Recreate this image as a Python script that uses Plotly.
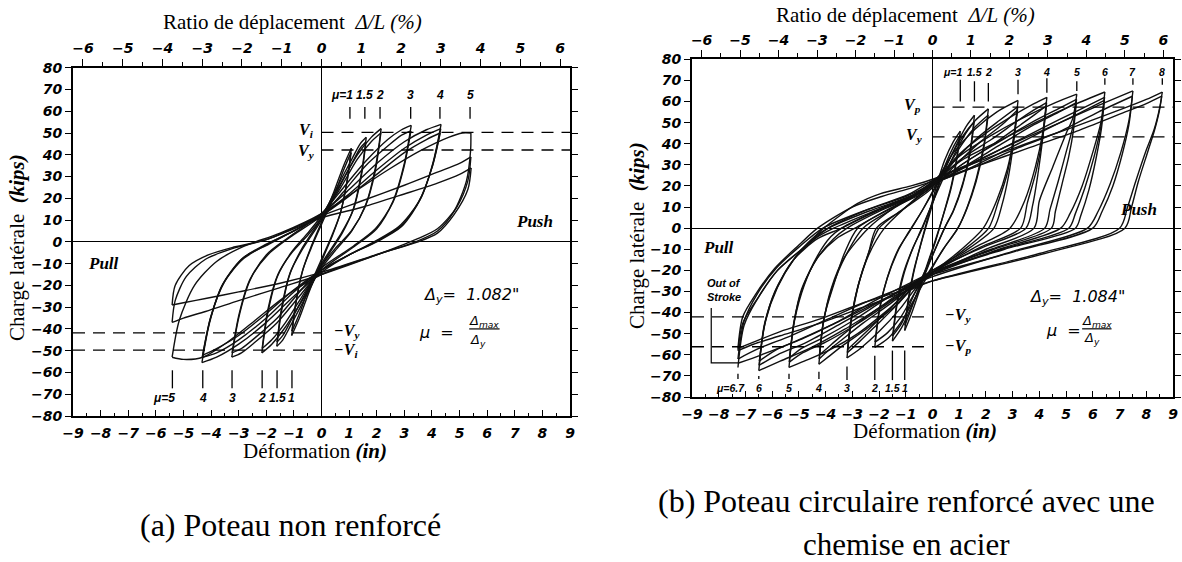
import plotly.graph_objects as go

# ------------------------------------------------------------------
# DATA
# ------------------------------------------------------------------
X_TICKS = list(range(-9, 10))          # inches
PCT_TICKS = list(range(-6, 7))         # drift ratio %
Y_TICKS = list(range(-80, 81, 10))     # kips
IN_PER_PCT = 1.44                      # 1 % drift = 1.44 in

# (a) unretrofitted column: loading branches (negative peak -> positive peak)
A_UP_X = [
    [-1.08, -0.95, -0.7, -0.4, 0, 0.45, 0.8, 1.08],
    [-1.07, -0.93, -0.68, -0.38, 0, 0.45, 0.8, 1.07],
    [-1.62, -1.45, -1.15, -0.75, 0, 0.6, 1.1, 1.4, 1.62],
    [-1.61, -1.44, -1.13, -0.72, 0, 0.6, 1.1, 1.4, 1.61],
    [-2.16, -1.95, -1.6, -1.1, -0.5, 0, 0.7, 1.3, 1.8, 2.16],
    [-2.15, -1.94, -1.58, -1.08, -0.5, 0, 0.7, 1.3, 1.8, 2.15],
    [-3.25, -3.0, -2.6, -2.0, -1.2, 0, 0.8, 1.6, 2.4, 2.9, 3.25],
    [-3.24, -2.98, -2.58, -1.95, -1.15, 0, 0.8, 1.6, 2.4, 2.9, 3.24],
    [-4.33, -4.05, -3.6, -2.9, -2.0, -1.0, 0, 1.0, 2.0, 3.0, 3.8, 4.33],
    [-4.32, -4.02, -3.55, -2.85, -1.95, -1.0, 0, 1.0, 2.0, 3.0, 3.8, 4.32],
    [-4.3, -4.0, -3.5, -2.8, -1.9, -1.0, 0, 1.0, 2.0, 3.0, 3.8, 4.3],
    [-5.41, -5.15, -4.6, -3.8, -2.8, -1.5, 0, 1.2, 2.4, 3.6, 4.6, 5.1, 5.41],
    [-5.41, -5.3, -4.9, -4.2, -3.2, -2.0, 0, 1.5, 3.0, 4.2, 5.0, 5.41],
    [-5.41, -5.3, -4.8, -4.1, -3.2, -2.0, 0, 1.5, 3.0, 4.2, 5.0, 5.42],
]
A_UP_Y = [
    [-43, -30, -14, -3, 9, 23, 35, 43],
    [-41, -28, -13, -3, 8, 21, 33, 41],
    [-48, -32, -15, -4, 11, 26, 38, 45, 48],
    [-46, -30, -14, -4, 10, 24, 36, 43, 46],
    [-51, -33, -16, -5, 4, 12, 27, 40, 48, 52],
    [-49, -31, -15, -5, 3, 11, 25, 38, 46, 50],
    [-53, -35, -18, -6, 2, 13, 25, 37, 47, 51.5, 53.5],
    [-51, -33, -17, -6, 2, 12, 23, 35, 44, 49, 51],
    [-55.5, -37, -20, -8, -1, 5, 13, 24, 36, 46, 51.5, 54],
    [-53, -35, -19, -8, -1, 5, 12, 22, 33, 43, 49, 52],
    [-52, -34, -18, -7, -1, 5, 12, 21, 31, 41, 47, 50],
    [-53, -36, -20, -9, -2, 4, 13, 23, 33, 42, 48, 50, 50],
    [-37, -27, -16, -8, -3, 1, 12, 19, 26, 32, 36, 39],
    [-29, -20, -11, -6, -2.5, 1, 11, 16, 22, 27, 31, 34],
]
# (a) unloading / reverse branches (positive peak -> negative peak)
A_DN_X = [
    [1.08, 0.95, 0.7, 0.4, 0, -0.45, -0.8, -1.08],
    [1.07, 0.93, 0.68, 0.38, 0, -0.45, -0.8, -1.07],
    [1.62, 1.45, 1.15, 0.75, 0, -0.6, -1.1, -1.4, -1.62],
    [1.61, 1.44, 1.13, 0.72, 0, -0.6, -1.1, -1.4, -1.61],
    [2.16, 1.95, 1.6, 1.1, 0.5, 0, -0.7, -1.3, -1.8, -2.16],
    [2.15, 1.94, 1.58, 1.08, 0.5, 0, -0.7, -1.3, -1.8, -2.15],
    [3.25, 3.0, 2.6, 2.0, 1.2, 0, -0.8, -1.6, -2.4, -2.9, -3.25],
    [3.24, 2.98, 2.58, 1.95, 1.15, 0, -0.8, -1.6, -2.4, -2.9, -3.24],
    [4.33, 4.05, 3.6, 2.9, 2.0, 1.0, 0, -1.0, -2.0, -3.0, -3.8, -4.33],
    [4.32, 4.02, 3.55, 2.85, 1.95, 1.0, 0, -1.0, -2.0, -3.0, -3.8, -4.32],
    [4.3, 4.0, 3.5, 2.8, 1.9, 1.0, 0, -1.0, -2.0, -3.0, -3.8, -4.3],
    [5.41, 5.4, 5.25, 4.8, 4.2, 3.4, 2.0, 0, -1.2, -2.4, -3.4, -4.3, -5.0, -5.41],
    [5.41, 5.3, 4.9, 4.2, 3.4, 2.0, 0, -1.5, -3.0, -4.2, -5.0, -5.41],
    [5.42, 5.3, 4.8, 4.2, 3.5, 2.2, 0, -1.5, -3.0, -4.2, -5.0, -5.41],
]
A_DN_Y = [
    [43, 30, 14, 3, -9, -23, -35, -43],
    [41, 28, 13, 3, -8, -21, -33, -41],
    [48, 32, 15, 4, -11, -26, -38, -45, -48],
    [46, 30, 14, 4, -10, -24, -36, -43, -46],
    [52, 34, 17, 5, -4, -12, -27, -39, -47, -51],
    [50, 32, 16, 5, -3, -11, -25, -37, -45, -49],
    [53.5, 36, 19, 6, -2, -13, -25, -37, -46, -51, -53],
    [51, 34, 18, 6, -2, -12, -23, -35, -44, -49, -51],
    [54, 37, 20, 7, 0, -6, -14, -25, -37, -47, -53, -55.5],
    [52, 35, 19, 7, 0, -6, -13, -23, -35, -45, -51, -53],
    [50, 34, 18, 7, 0, -6, -13, -22, -33, -43, -49, -52],
    [50, 42, 28, 14, 5, 0, -6, -15, -24, -36, -46, -53, -54, -53],
    [39, 28, 16, 6, 1, -6, -15, -21, -27, -32, -35, -37],
    [34, 24, 12.5, 4, 0, -5, -14, -19, -23, -26, -28, -29],
]

# (b) steel-jacketed circular column
B_UP_X = [
    [-1.04, -0.92, -0.72, -0.45, -0.15, 0.15, 0.45, 0.78, 1.04],
    [-1.03, -0.9, -0.7, -0.42, -0.12, 0.18, 0.48, 0.8, 1.03],
    [-1.5, -1.35, -1.1, -0.75, -0.4, 0, 0.35, 0.8, 1.25, 1.57],
    [-1.49, -1.33, -1.08, -0.72, -0.38, 0, 0.38, 0.82, 1.25, 1.56],
    [-2.16, -2.0, -1.7, -1.3, -0.9, -0.4, 0.15, 0.6, 1.1, 1.6, 2.09],
    [-2.15, -1.98, -1.68, -1.28, -0.88, -0.4, 0.15, 0.62, 1.12, 1.6, 2.08],
    [-3.2, -3.05, -2.8, -2.4, -1.8, -1.0, -0.2, 0.2, 0.8, 1.6, 2.4, 3.2],
    [-3.19, -3.03, -2.78, -2.4, -2.0, -1.1, -0.2, 0.25, 0.9, 1.7, 2.5, 3.19],
    [-3.18, -3.0, -2.75, -2.4, -2.1, -1.2, -0.2, 0.25, 0.95, 1.8, 2.6, 3.18],
    [-4.25, -4.1, -3.8, -3.3, -2.4, -1.4, -0.3, 0.2, 1.0, 2.0, 3.1, 3.8, 4.28],
    [-4.24, -4.08, -3.75, -3.25, -2.6, -1.5, -0.3, 0.2, 1.1, 2.2, 3.2, 3.8, 4.27],
    [-4.23, -4.05, -3.7, -3.3, -2.8, -1.6, -0.3, 0.2, 1.2, 2.3, 3.3, 3.85, 4.26],
    [-5.37, -5.2, -4.9, -4.3, -3.6, -2.9, -1.8, -0.6, 0.2, 1.0, 2.2, 3.5, 4.6, 5.4],
    [-5.36, -5.18, -4.85, -4.3, -3.7, -3.2, -2.0, -0.7, 0.2, 1.2, 2.5, 3.7, 4.7, 5.39],
    [-5.35, -5.15, -4.8, -4.3, -3.8, -3.4, -2.1, -0.75, 0.2, 1.3, 2.6, 3.8, 4.8, 5.38],
    [-6.5, -6.3, -5.9, -5.2, -4.3, -3.4, -2.0, -0.7, 0.2, 1.2, 2.6, 4.0, 5.3, 6.45],
    [-6.49, -6.28, -5.85, -5.2, -4.4, -3.7, -2.2, -0.8, 0.2, 1.4, 2.8, 4.2, 5.4, 6.44],
    [-6.48, -6.25, -5.8, -5.2, -4.5, -3.9, -2.4, -0.85, 0.2, 1.5, 2.9, 4.3, 5.5, 6.43],
    [-7.28, -7.05, -6.53, -5.8, -4.8, -3.9, -2.4, -0.9, 0.2, 1.5, 3.0, 4.6, 6.1, 7.5],
    [-7.28, -7.05, -6.55, -5.85, -5.0, -4.1, -2.6, -1.0, 0.2, 1.6, 3.2, 4.8, 6.2, 7.48],
    [-7.28, -7.1, -6.53, -5.8, -4.8, -4.07, -2.8, -1.94, -0.8, 0.2, 1.8, 3.5, 5.3, 7.0, 8.0, 8.6],
    [-7.28, -7.1, -6.6, -5.9, -5.0, -4.3, -3.0, -1.9, -0.8, 0.2, 1.8, 3.6, 5.4, 7.0, 8.0, 8.58],
]
B_UP_Y = [
    [-48.5, -36, -22, -8, 6, 20, 32, 41, 46],
    [-46, -33, -20, -7, 6, 19, 30, 39, 44],
    [-53.5, -38, -23, -10, 0, 12, 24, 37, 48, 53.5],
    [-51, -35, -21, -9, 0, 12, 23, 35, 45, 50.5],
    [-56.5, -40, -24, -11, -2, 8, 21, 32, 43, 51, 56.5],
    [-54, -38, -23, -10, -2, 8, 20, 30, 40, 48, 53.5],
    [-61.5, -44, -28, -13, 0, 10, 19, 24, 36, 47, 55, 60.5],
    [-59, -42, -27, -12, 0, 9, 18, 23, 33, 43, 51, 57.5],
    [-57.5, -41, -26, -12, 0, 8, 17, 22, 31, 41, 49, 56],
    [-64.5, -46, -29, -14, 0, 10, 19, 24, 35, 45, 54, 59, 62],
    [-62, -44, -28, -13, 0, 9, 18, 23, 33, 42, 51, 56, 59.5],
    [-60, -42, -27, -12, 0, 9, 17, 22, 31, 40, 49, 54, 58],
    [-66, -46, -29, -14, -5, 0, 8, 16, 24, 34, 44, 53, 59.5, 63.5],
    [-63.5, -44, -28, -14, -5, 0, 8, 15, 22, 31, 41, 50, 56.5, 61],
    [-61.5, -43, -27, -13, -4, 0, 8, 15, 22, 30, 40, 49, 55.5, 59.5],
    [-67.5, -47, -30, -15, -5, 0, 9, 16, 24, 33, 42, 51, 58.5, 64.5],
    [-65, -45, -29, -15, -5, 0, 8, 15, 22, 30, 39, 48, 55.5, 62],
    [-63, -44, -28, -15, -5, 0, 8, 15, 22, 29, 38, 47, 54.5, 60.5],
    [-66, -46, -33, -20, -9, 0, 9, 16, 24, 31, 40, 49, 57.5, 65],
    [-62, -44, -31, -19, -9, 0, 8, 15, 22, 29, 38, 46, 55, 62.5],
    [-58, -45, -33, -20, -9, 0, 11.7, 16.4, 20, 24, 32, 40, 48, 56, 61, 64.5],
    [-57, -42, -31, -19, -8, 0, 10, 15, 19, 23, 30, 38, 46, 54, 59, 62.5],
]
B_DN_X = [
    [1.04, 0.92, 0.7, 0.42, 0.12, -0.2, -0.5, -0.8, -1.04],
    [1.03, 0.9, 0.68, 0.4, 0.1, -0.22, -0.52, -0.82, -1.03],
    [1.57, 1.42, 1.15, 0.8, 0.45, 0, -0.35, -0.75, -1.15, -1.5],
    [1.56, 1.4, 1.12, 0.78, 0.45, 0, -0.38, -0.78, -1.15, -1.49],
    [2.09, 1.93, 1.65, 1.3, 0.95, 0.4, -0.2, -0.65, -1.15, -1.65, -2.16],
    [2.08, 1.92, 1.63, 1.28, 0.95, 0.4, -0.2, -0.68, -1.18, -1.68, -2.15],
    [3.2, 3.05, 2.8, 2.4, 1.9, 1.0, 0, -0.6, -1.2, -2.0, -2.7, -3.2],
    [3.19, 3.03, 2.8, 2.45, 2.1, 1.1, 0, -0.65, -1.3, -2.1, -2.75, -3.19],
    [3.18, 3.03, 2.85, 2.6, 2.3, 1.2, 0, -0.65, -1.35, -2.15, -2.8, -3.18],
    [4.28, 4.12, 3.85, 3.45, 2.9, 1.6, 0, -0.7, -1.5, -2.5, -3.4, -3.9, -4.25],
    [4.27, 4.12, 3.88, 3.55, 3.3, 1.8, 0, -0.7, -1.6, -2.6, -3.4, -3.9, -4.24],
    [4.26, 4.12, 3.95, 3.75, 3.5, 1.9, 0, -0.7, -1.7, -2.7, -3.5, -3.95, -4.23],
    [5.4, 5.25, 5.04, 4.5, 4.0, 3.8, 2.0, 0, -0.7, -1.6, -2.8, -3.9, -4.8, -5.37],
    [5.39, 5.25, 5.0, 4.7, 4.4, 4.2, 2.2, 0, -0.7, -1.7, -2.9, -4.0, -4.85, -5.36],
    [5.38, 5.27, 5.1, 4.85, 4.6, 4.45, 2.3, 0, -0.75, -1.8, -3.0, -4.1, -4.9, -5.35],
    [6.45, 6.3, 6.0, 5.6, 5.15, 4.8, 2.5, 0, -0.8, -1.9, -3.3, -4.6, -5.7, -6.5],
    [6.44, 6.3, 6.05, 5.7, 5.35, 5.1, 2.6, 0, -0.8, -2.0, -3.4, -4.7, -5.8, -6.49],
    [6.43, 6.32, 6.12, 5.85, 5.55, 5.35, 2.7, 0, -0.85, -2.1, -3.5, -4.8, -5.9, -6.48],
    [7.5, 7.35, 7.05, 6.65, 6.2, 5.8, 3.0, 0, -0.9, -2.2, -3.8, -5.2, -6.4, -7.28],
    [7.48, 7.35, 7.1, 6.75, 6.35, 6.0, 3.1, 0, -0.9, -2.3, -3.9, -5.3, -6.5, -7.28],
    [8.6, 8.5, 8.3, 8.0, 7.6, 7.3, 7.0, 4.0, 0, -1.0, -2.5, -4.2, -5.7, -6.7, -7.28],
    [8.58, 8.48, 8.3, 8.05, 7.7, 7.45, 7.2, 4.2, 0, -1.0, -2.5, -4.2, -5.7, -6.7, -7.28],
]
B_DN_Y = [
    [46, 34, 20, 7, -6, -18, -30, -41, -48.5],
    [44, 32, 18, 6, -6, -18, -29, -39, -46],
    [53.5, 38, 22, 9, 0, -13, -24, -36, -47, -53.5],
    [50.5, 35, 20, 8, 0, -13, -23, -34, -45, -51],
    [56.5, 40, 24, 10, 0, -10, -23, -33, -44, -52, -56.5],
    [53.5, 38, 22, 9, 0, -10, -22, -31, -42, -49.5, -54],
    [60.5, 44, 28, 13, 0, -11, -21, -28, -38, -49, -57, -61.5],
    [57.5, 42, 26, 12, 0, -11, -21, -27, -36, -46, -54, -59],
    [56, 40, 25, 11, 0, -11, -20, -26, -35, -45, -53, -57.5],
    [62, 45, 29, 13, 0, -9, -21, -28, -38, -48, -56, -61, -64.5],
    [59.5, 43, 27, 12, 0, -9, -21, -27, -36, -45, -53, -58, -62],
    [58, 42, 26, 11, 0, -9, -20, -26, -35, -44, -52, -57, -60],
    [63.5, 52, 46, 29, 13, 0, -10, -22, -28, -38, -50, -58, -63, -66],
    [61, 48, 36, 22, 9, 0, -10, -21, -27, -36, -46, -54, -59, -63.5],
    [59.5, 46, 34, 21, 8, 0, -10, -21, -26, -34, -44, -52, -57, -61.5],
    [64.5, 50, 36, 20, 7, 0, -10, -22, -28, -37, -48, -57, -63, -67.5],
    [62, 48, 34, 19, 7, 0, -10, -21, -27, -35, -45, -54, -60, -65],
    [60.5, 47, 33, 18, 6, 0, -10, -21, -26, -34, -44, -52, -58, -63],
    [65, 51, 36, 21, 8, 0, -11, -23, -28, -36, -46, -54, -60, -64],
    [62.5, 49, 35, 20, 8, 0, -11, -22, -27, -34, -43, -51, -57, -62],
    [64.5, 57, 47, 37, 22, 10, 0, -12, -25, -30, -37, -45, -51, -55, -58],
    [62.5, 55, 46, 36, 22, 10, 0, -12, -25, -29, -35, -43, -49, -54, -57],
]

# ductility marks
A_MU_POS_X = [1.03, 1.57, 2.12, 3.23, 4.29, 5.38]
A_MU_POS_LBL = ["1", "1.5", "2", "3", "4", "5"]
A_MU_NEG_X = [-1.07, -1.61, -2.15, -3.24, -4.3, -5.4]
A_MU_NEG_LBL = ["1", "1.5", "2", "3", "4", "5"]
B_MU_POS_X = [1.04, 1.57, 2.09, 3.2, 4.28, 5.4, 6.45, 7.5, 8.6]
B_MU_POS_LBL = ["1", "1.5", "2", "3", "4", "5", "6", "7", "8"]
B_MU_NEG_X = [-1.04, -1.5, -2.16, -3.2, -4.25, -5.37, -6.5, -7.28]
B_MU_NEG_LBL = ["1", "1.5", "2", "3", "4", "5", "6", "6.7"]

# strength levels (kips)
A_VI, A_VY, A_NVY, A_NVI = 50.3, 42.2, -41.8, -49.7
B_VP, B_VY, B_NVY, B_NVP = 57.3, 43.2, -42.0, -56.2

# "Out of Stroke" pointer
B_STROKE_X = [-8.28, -8.28, -7.28]
B_STROKE_Y = [-37.8, -63.8, -63.8]

# ------------------------------------------------------------------
W, H = 1182, 562
SERIF = "Liberation Serif, Times New Roman, serif"
SANS = "DejaVu Sans, sans-serif"
NARROW = "Liberation Sans, Arial, sans-serif"
TICKFONT = dict(family=SANS, size=14, color="black")
LINE = dict(color="#101010", width=1.4, shape="spline", smoothing=0.8)


def px_x(p):
    return p / W


def px_y(p):
    return 1 - p / H


def fmt(v):
    s = ("%g" % abs(v))
    return "<b><i>" + ("−" if v < 0 else "") + s + "</i></b>"


fig = go.Figure()


def add_branches(xs_list, ys_list, xa, ya):
    for xs, ys in zip(xs_list, ys_list):
        fig.add_trace(go.Scatter(x=xs, y=ys, mode="lines", xaxis=xa, yaxis=ya,
                                 line=LINE, hoverinfo="skip", showlegend=False))


add_branches(A_UP_X, A_UP_Y, "x", "y")
add_branches(A_DN_X, A_DN_Y, "x", "y")
add_branches(B_UP_X, B_UP_Y, "x3", "y2")
add_branches(B_DN_X, B_DN_Y, "x3", "y2")


def add_marks(xs, y0, y1, xa, ya):
    if not isinstance(y0, list):
        y0 = [y0] * len(xs)
        y1 = [y1] * len(xs)
    mx, my = [], []
    for x, a, b in zip(xs, y0, y1):
        mx += [x, x, None]
        my += [a, b, None]
    fig.add_trace(go.Scatter(x=mx, y=my, mode="lines", xaxis=xa, yaxis=ya,
                             line=dict(color="black", width=1.3),
                             hoverinfo="skip", showlegend=False))


add_marks(A_MU_POS_X, 56.6, 62, "x", "y")
add_marks(A_MU_NEG_X, -67.3, -59, "x", "y")
add_marks(B_MU_POS_X, [60, 60, 60, 63.5, 64.2, 65, 68, 68, 68],
          [70.3, 69.6, 68.8, 70.3, 71, 69.6, 71, 71, 71], "x3", "y2")
add_marks(B_MU_NEG_X, [-72, -72, -72, -72, -71.5, -71.5, -71.5, -71.5],
          [-58, -58, -60.5, -65.5, -68, -69, -70, -69], "x3", "y2")

fig.add_trace(go.Scatter(x=B_STROKE_X, y=B_STROKE_Y, mode="lines", xaxis="x3", yaxis="y2",
                         line=dict(color="black", width=1.2), hoverinfo="skip", showlegend=False))

# invisible anchors so the top (drift ratio) axes render
fig.add_trace(go.Scatter(x=[PCT_TICKS[0]], y=[0], xaxis="x2", yaxis="y", mode="markers",
                         marker=dict(opacity=0), hoverinfo="skip", showlegend=False))
fig.add_trace(go.Scatter(x=[PCT_TICKS[0]], y=[0], xaxis="x4", yaxis="y2", mode="markers",
                         marker=dict(opacity=0), hoverinfo="skip", showlegend=False))


def xbottom(dom, anchor):
    return dict(domain=dom, anchor=anchor, range=[-9, 9], tickmode="array", tickvals=X_TICKS,
                ticktext=[fmt(v) for v in X_TICKS],
                ticks="inside", ticklen=6, tickwidth=1.4, tickcolor="black",
                minor=dict(dtick=0.5, tick0=0, ticks="inside", ticklen=3, tickwidth=1.2,
                           tickcolor="black", showgrid=False),
                showline=True, linecolor="black", linewidth=2, mirror=False,
                zeroline=True, zerolinecolor="black", zerolinewidth=1.3, automargin=False,
                showgrid=False, tickfont=TICKFONT, ticklabelstandoff=3)


def xtop(over, anchor):
    return dict(overlaying=over, anchor=anchor, side="top",
                range=[-9 / IN_PER_PCT, 9 / IN_PER_PCT], tickmode="array", tickvals=PCT_TICKS,
                ticktext=[fmt(v) for v in PCT_TICKS],
                ticks="outside", ticklen=7, tickwidth=1.4, tickcolor="black",
                minor=dict(dtick=0.5, tick0=0, ticks="outside", ticklen=4, tickwidth=1.2,
                           tickcolor="black", showgrid=False),
                showline=True, linecolor="black", linewidth=2, zeroline=False, automargin=False,
                showgrid=False, tickfont=TICKFONT)


def yleft(dom, anchor):
    return dict(domain=dom, anchor=anchor, range=[-80, 80], tickmode="array", tickvals=Y_TICKS,
                ticktext=[fmt(v) for v in Y_TICKS],
                ticks="outside", ticklen=6, tickwidth=1.4, tickcolor="black",
                showline=True, linecolor="black", linewidth=2, mirror="ticks",
                zeroline=True, zerolinecolor="black", zerolinewidth=1.3, automargin=False,
                showgrid=False, tickfont=TICKFONT)


fig.update_layout(
    width=W, height=H, autosize=False,
    margin=dict(l=0, r=0, t=0, b=0, pad=0),
    paper_bgcolor="white", plot_bgcolor="white",
    showlegend=False,
    xaxis=xbottom([px_x(73), px_x(570)], "y"),
    xaxis2=xtop("x", "y"),
    yaxis=yleft([px_y(416), px_y(67.7)], "x"),
    xaxis3=xbottom([px_x(692), px_x(1173)], "y2"),
    xaxis4=xtop("x3", "y2"),
    yaxis2=yleft([px_y(397), px_y(59.3)], "x3"),
)

# dashed strength lines
shapes = []


def dash(x0, x1, y, xr, yr):
    shapes.append(dict(type="line", xref=xr, yref=yr, x0=x0, x1=x1, y0=y, y1=y,
                       line=dict(color="black", width=1.3, dash="12px,8px")))


dash(0, 9, A_VI, "x", "y"); dash(0, 9, A_VY, "x", "y")
dash(-9, 0, A_NVY, "x", "y"); dash(-9, 0, A_NVI, "x", "y")
dash(0, 9, B_VP, "x3", "y2"); dash(0, 9, B_VY, "x3", "y2")
dash(-9, 0, B_NVY, "x3", "y2"); dash(-9, 0, B_NVP, "x3", "y2")
# fraction bars
shapes.append(dict(type="line", xref="x", yref="y", x0=5.35, x1=6.45, y0=-40, y1=-40,
                   line=dict(color="black", width=1.2)))
shapes.append(dict(type="line", xref="x3", yref="y2", x0=5.6, x1=6.7, y0=-47.7, y1=-47.7,
                   line=dict(color="black", width=1.2)))
fig.update_layout(shapes=shapes)

ann = []


def A(text, x, y, xr="paper", yr="paper", size=14, fam=SERIF, xa="center", ya="middle", ang=0):
    ann.append(dict(text=text, x=x, y=y, xref=xr, yref=yr, showarrow=False,
                    font=dict(family=fam, size=size, color="black"),
                    xanchor=xa, yanchor=ya, textangle=ang))


# ---- titles (a)
A("Ratio de déplacement  <i>Δ/L (%)</i>", px_x(292), px_y(22), size=21)
A("Charge latérale  <b><i>(kips)</i></b>", px_x(17), px_y(248), size=21, ang=-90)
A("Déformation <b><i>(in)</i></b>", px_x(315), px_y(451), size=21)
A("(a) Poteau non renforcé", px_x(290), px_y(525), size=32)
# ---- titles (b)
A("Ratio de déplacement  <i>Δ/L (%)</i>", px_x(905), px_y(15), size=21)
A("Charge latérale  <b><i>(kips)</i></b>", px_x(637), px_y(236), size=21, ang=-90)
A("Déformation <b><i>(in)</i></b>", px_x(925), px_y(431), size=21)
A("(b) Poteau circulaire renforcé avec une", px_x(907), px_y(501), size=32)
A("chemise en acier", px_x(907), px_y(544), size=31)

# ---- in-plot text (a)
A("<b><i>Push</i></b>", 7.7, 9.3, "x", "y", size=17)
A("<b><i>Pull</i></b>", -7.9, -10, "x", "y", size=17)
A("<b><i>V<sub>i</sub></i></b>", -0.55, 51, "x", "y", size=16)
A("<b><i>V<sub>y</sub></i></b>", -0.55, 41.5, "x", "y", size=16)
A("<b><i>−V<sub>y</sub></i></b>", 0.9, -41, "x", "y", size=16)
A("<b><i>−V<sub>i</sub></i></b>", 0.87, -50, "x", "y", size=16)
A("<i>Δ<sub>y</sub>=  1.082\"</i>", 5.4, -24.6, "x", "y", size=16, fam=SANS)
A("<i>μ  =</i>", 4.15, -41.5, "x", "y", size=16, fam=SANS)
A("<i>Δ<sub>max</sub></i>", 5.9, -36.5, "x", "y", size=13, fam=SANS)
A("<i>Δ<sub>y</sub></i>", 5.65, -45.5, "x", "y", size=13, fam=SANS)
for i, (x, t) in enumerate(zip(A_MU_POS_X, A_MU_POS_LBL)):
    if i == 0:
        A("<b><i>μ=" + t + "</i></b>", x + 0.18, 67.3, "x", "y", size=12, fam=NARROW, xa="right")
    else:
        A("<b><i>" + t + "</i></b>", x, 67.3, "x", "y", size=12, fam=NARROW)
for i, (x, t) in enumerate(zip(A_MU_NEG_X, A_MU_NEG_LBL)):
    if i == len(A_MU_NEG_X) - 1:
        A("<b><i>μ=" + t + "</i></b>", x + 0.18, -71.9, "x", "y", size=12, fam=NARROW, xa="right")
    else:
        A("<b><i>" + t + "</i></b>", x, -71.9, "x", "y", size=12, fam=NARROW)

# ---- in-plot text (b)
A("<b><i>Push</i></b>", 7.7, 8.8, "x3", "y2", size=17)
A("<b><i>Pull</i></b>", -8.0, -9.2, "x3", "y2", size=17)
A("<b><i>V<sub>p</sub></i></b>", -0.75, 58.3, "x3", "y2", size=16)
A("<b><i>V<sub>y</sub></i></b>", -0.7, 44, "x3", "y2", size=16)
A("<b><i>−V<sub>y</sub></i></b>", 0.95, -41.5, "x3", "y2", size=16)
A("<b><i>−V<sub>p</sub></i></b>", 0.95, -56, "x3", "y2", size=16)
A("<i>Δ<sub>y</sub>=  1.084\"</i>", 5.4, -33, "x3", "y2", size=16, fam=SANS)
A("<i>μ  =</i>", 4.9, -48.7, "x3", "y2", size=16, fam=SANS)
A("<i>Δ<sub>max</sub></i>", 6.15, -44, "x3", "y2", size=13, fam=SANS)
A("<i>Δ<sub>y</sub></i>", 5.95, -52.5, "x3", "y2", size=13, fam=SANS)
A("<b><i>Out of</i></b>", -7.8, -26, "x3", "y2", size=11, fam=NARROW)
A("<b><i>Stroke</i></b>", -7.8, -32.6, "x3", "y2", size=11, fam=NARROW)
for i, (x, t) in enumerate(zip(B_MU_POS_X, B_MU_POS_LBL)):
    if i == 0:
        A("<b><i>μ=" + t + "</i></b>", x + 0.15, 74, "x3", "y2", size=10.5, fam=NARROW, xa="right")
    else:
        A("<b><i>" + t + "</i></b>", x, 74, "x3", "y2", size=10.5, fam=NARROW)
for i, (x, t) in enumerate(zip(B_MU_NEG_X, B_MU_NEG_LBL)):
    if i == len(B_MU_NEG_X) - 1:
        A("<b><i>μ=" + t + "</i></b>", x + 0.35, -75.7, "x3", "y2", size=10.5, fam=NARROW, xa="right")
    else:
        A("<b><i>" + t + "</i></b>", x, -75.7, "x3", "y2", size=10.5, fam=NARROW)

fig.update_layout(annotations=ann)

fig.write_html("out.html")
